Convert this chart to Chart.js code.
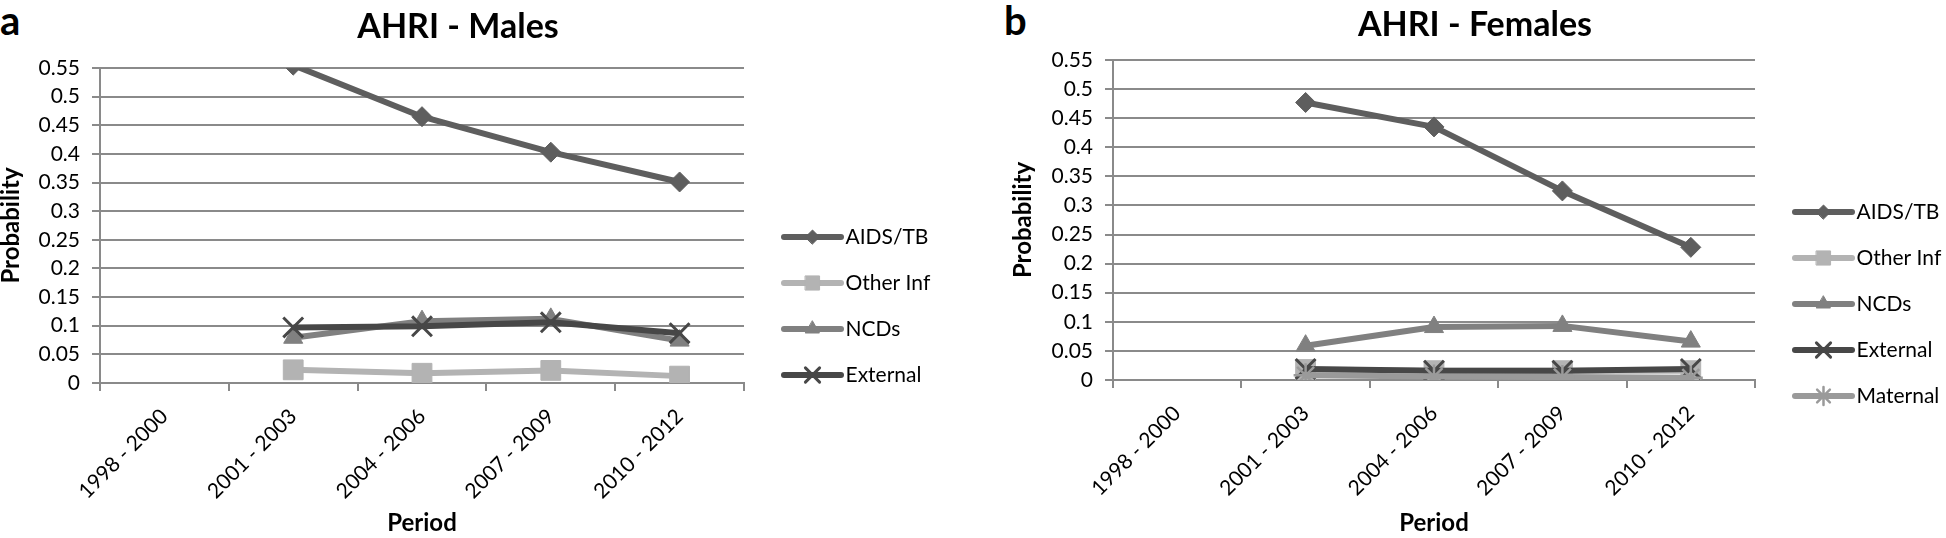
<!DOCTYPE html>
<html>
<head>
<meta charset="utf-8">
<script src="https://cdn.jsdelivr.net/npm/chart.js@4/dist/chart.umd.min.js"></script>
<style>
  html, body { margin: 0; padding: 0; width: 1946px; height: 538px; overflow: hidden; background: #fff; }
  .panel { position: absolute; top: 0; height: 538px; }
  .tag { position: absolute; top: 0; font: bold 40px Lato, sans-serif; line-height: 40px; color: #000; }
</style>
</head>
<body>
<div class="tag" style="left:0px">a</div>
<div class="tag" style="left:1004px">b</div>
<div class="panel" style="left:-10px"><canvas id="males" width="990" height="538"></canvas></div>
<div class="panel" style="left:975px"><canvas id="females" width="990" height="538"></canvas></div>
<script>
const periods = ["1998 - 2000", "2001 - 2003", "2004 - 2006", "2007 - 2009", "2010 - 2012"];

// Males
const maleAids = [null, 0.555, 0.465, 0.403, 0.351];
const maleOtherInf = [null, 0.023, 0.017, 0.022, 0.012];
const maleNcds = [null, 0.079, 0.108, 0.112, 0.074];
const maleExternal = [null, 0.097, 0.099, 0.106, 0.087];

// Females
const femaleAids = [null, 0.477, 0.435, 0.325, 0.228];
const femaleOtherInf = [null, 0.018, 0.016, 0.016, 0.016];
const femaleNcds = [null, 0.059, 0.091, 0.093, 0.066];
const femaleExternal = [null, 0.019, 0.016, 0.016, 0.019];
const femaleMaternal = [null, 0.008, 0.006, 0.005, 0.004];

const gridColor = "#8a8a8a";
const tickFont = { family: "Lato", size: 21 };
const axisTitleFont = { family: "Lato", size: 24, weight: "bold" };

const styles = {
  "AIDS/TB":   { color: "#5e5e5e", point: "rectRot",  r: 10, lr: 7,  bw: 1 },
  "Other Inf": { color: "#b3b3b3", point: "rect",     r: 14, lr: 10, bw: 1 },
  "NCDs":      { color: "#808080", point: "triangle", r: 11, lr: 8,  bw: 1 },
  "External":  { color: "#474747", point: "crossRot", r: 14, lr: 10, bw: 3 },
  "Maternal":  { color: "#9a9a9a", point: "star",     r: 12, lr: 9,  bw: 2.5 }
};

// legend symbol: line with the marker in the middle, like the spreadsheet legend
function legendSymbol(name) {
  const s = styles[name];
  const c = document.createElement("canvas");
  c.width = 90; c.height = 30;
  const g = c.getContext("2d");
  g.strokeStyle = s.color;
  g.lineWidth = 6;
  g.lineCap = "round";
  g.beginPath(); g.moveTo(27, 15); g.lineTo(84, 15); g.stroke();
  g.fillStyle = s.color;
  g.lineWidth = s.bw;
  Chart.helpers.drawPoint(g, { pointStyle: s.point, radius: s.lr, borderWidth: s.bw, rotation: 0 }, 55.5, 15);
  return c;
}

// legend box is kept narrow for the layout; give its clip area room for the text
const legendRoom = {
  id: "legendRoom",
  afterLayout(chart) {
    chart.legend.right += 80;
    chart.legend.width += 80;
  }
};

function makeChart(id, title, series, o) {
  return new Chart(document.getElementById(id), {
    type: "line",
    plugins: [legendRoom],
    data: {
      labels: periods,
      datasets: series.map((s, i) => {
        const st = styles[s.name];
        return {
          label: s.name,
          data: s.data,
          order: -i,
          borderColor: st.color,
          backgroundColor: st.color,
          borderWidth: 6,
          borderJoinStyle: "round",
          tension: 0,
          pointStyle: st.point,
          pointRadius: st.r,
          pointHoverRadius: st.r,
          pointBorderWidth: st.bw,
          pointBackgroundColor: st.color,
          pointBorderColor: st.color
        };
      })
    },
    options: {
      responsive: false,
      animation: false,
      layout: { padding: { left: o.padL, right: o.padR, top: 0, bottom: 0 } },
      plugins: {
        tooltip: { enabled: false },
        title: {
          display: true, text: title, color: "#000",
          font: { family: "Lato", size: 34, weight: "bold" },
          padding: { top: o.titleTop, bottom: o.titleBottom }
        },
        legend: {
          position: "right", align: "start", maxWidth: o.legendW,
          title: { display: true, text: " ", font: { size: 10, lineHeight: 1 }, padding: { top: o.legendTop, bottom: 0 } },
          labels: {
            usePointStyle: true, pointStyleWidth: 66, padding: 25, color: "#000", font: tickFont,
            generateLabels: chart => chart.data.datasets.map((ds, i) => ({
              text: ds.label, datasetIndex: i, hidden: false, lineWidth: 0,
              fontColor: "#000", fillStyle: ds.borderColor, strokeStyle: ds.borderColor,
              pointStyle: legendSymbol(ds.label)
            }))
          }
        }
      },
      scales: {
        x: {
          offset: true,
          grid: { drawOnChartArea: false, color: gridColor, lineWidth: 2, tickLength: 8, offset: true },
          border: { color: gridColor, width: 2 },
          ticks: { color: "#000", font: tickFont, minRotation: 45, maxRotation: 45, autoSkip: false, padding: 13 },
          title: { display: true, text: "Period", color: "#000", font: axisTitleFont, padding: { top: 0, bottom: 0 } },
          afterFit: s => { s.height = o.xH; }
        },
        y: {
          min: 0, max: 0.55,
          ticks: { stepSize: 0.05, color: "#000", font: tickFont, padding: 12, callback: v => String(+v.toFixed(2)) },
          grid: { color: gridColor, lineWidth: 2, tickLength: 8 },
          border: { color: gridColor, width: 2 },
          title: { display: true, text: "Probability", color: "#000", font: axisTitleFont, padding: { top: 0, bottom: 0 } },
          afterFit: s => { s.width = o.yW; }
        }
      }
    }
  });
}

makeChart("males", "AHRI - Males", [
  { name: "AIDS/TB", data: maleAids },
  { name: "Other Inf", data: maleOtherInf },
  { name: "NCDs", data: maleNcds },
  { name: "External", data: maleExternal }
], { padL: 6.6, padR: 60.6, yW: 103.4, xH: 155, legendW: 175.4, legendTop: 191.5, titleTop: 6.6, titleBottom: 20.6 });

makeChart("females", "AHRI - Females", [
  { name: "AIDS/TB", data: femaleAids },
  { name: "Other Inf", data: femaleOtherInf },
  { name: "NCDs", data: femaleNcds },
  { name: "External", data: femaleExternal },
  { name: "Maternal", data: femaleMaternal }
], { padL: 33.6, padR: 23.6, yW: 104.4, xH: 158, legendW: 186.4, legendTop: 166.5, titleTop: 5.1, titleBottom: 14.1 });
</script>
</body>
</html>
